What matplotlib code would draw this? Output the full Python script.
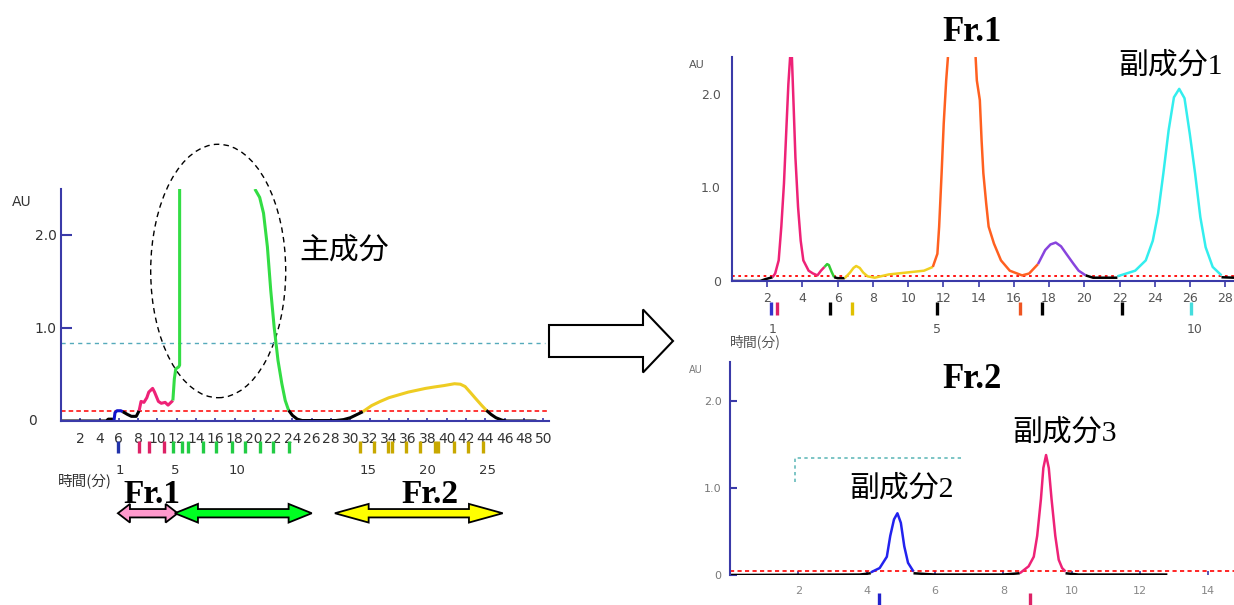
import numpy as np
import matplotlib
matplotlib.use('Agg')
import matplotlib.pyplot as plt
from matplotlib.patches import Ellipse, Polygon, FancyArrow

W, H = 1234, 605
CJK = ['Noto Sans CJK JP', 'DejaVu Sans']
MIX = ['Liberation Serif', 'Noto Sans CJK JP']
AXC = '#3a3aa8'

# ---- 左: 分取クロマトグラム ----
L_black_a = ([0, 4.7, 4.9, 5.3, 5.5], [0, 0, 0.02, 0.02, 0.01])
L_blue = ([5.5, 5.6, 5.8, 6.2, 6.4], [0.01, 0.09, 0.11, 0.11, 0.10])
L_black_b = ([6.4, 6.9, 7.3, 7.8, 8.1], [0.10, 0.07, 0.05, 0.05, 0.11])
L_pink = ([8.1, 8.3, 8.6, 8.9, 9.1, 9.3, 9.5, 9.7, 9.9, 10.1, 10.4, 10.8, 11.1, 11.4, 11.6],
          [0.11, 0.21, 0.20, 0.25, 0.31, 0.33, 0.35, 0.31, 0.26, 0.21, 0.19, 0.20, 0.17, 0.20, 0.22])
L_green_a = ([11.6, 11.75, 11.9, 12.2, 12.3, 12.3], [0.22, 0.45, 0.56, 0.58, 0.60, 2.49])
L_green_b = ([20.1, 20.6, 21.0, 21.4, 21.75, 22.1, 22.5, 22.9, 23.25, 23.6],
             [2.49, 2.40, 2.23, 1.87, 1.40, 1.01, 0.65, 0.40, 0.22, 0.115])
L_black_c = ([23.6, 24.0, 24.5, 25.0, 28.5, 29.3, 30.0, 30.7, 31.3],
             [0.115, 0.06, 0.02, 0.005, 0.005, 0.015, 0.035, 0.07, 0.10])
L_yellow = ([31.3, 32.2, 33.1, 34.0, 35.0, 36.0, 36.9, 37.8, 38.7, 39.7, 40.8, 41.4, 41.9, 42.5, 43.0, 43.6, 44.1],
            [0.10, 0.165, 0.21, 0.25, 0.28, 0.31, 0.33, 0.35, 0.365, 0.38, 0.40, 0.395, 0.37, 0.30, 0.24, 0.17, 0.115])
L_black_d = ([44.1, 44.6, 45.1, 45.7, 46.2, 49.3], [0.115, 0.07, 0.035, 0.01, 0.0, 0.0])
L_red_level = 0.11
L_cyan_level = 0.84
L_xticks = list(range(2, 51, 2))
L_frac_x = [5.88, 8.08, 9.15, 10.7,
            11.64, 12.5, 13.2, 14.75, 16.1, 17.7, 19.1, 20.6, 22.0, 23.6,
            31.0, 32.5, 33.9, 34.3, 35.8, 37.2, 38.8, 39.1, 40.7, 42.2, 43.8]
L_frac_c = ['#2233aa'] + ['#dd2266'] * 3 + ['#22cc44'] * 10 + ['#c8a800'] * 11
L_frac_num = ['1', '5', '10', '15', '20', '25']
L_frac_num_x = [6.1, 11.8, 18.3, 31.8, 38.0, 44.2]
# 分画の範囲 (分)
arr_pink = (5.9, 12.1)
arr_green = (11.8, 26.0)
arr_yellow = (28.4, 45.8)

# ---- 右上: Fr.1 ----
R1_black_a = ([0, 1.6, 1.9, 2.3], [0, 0, 0.02, 0.04])
R1_pink = ([2.3, 2.45, 2.65, 2.8, 2.95, 3.1, 3.2, 3.3, 3.4, 3.5, 3.6, 3.75, 3.9, 4.05, 4.35, 4.6, 4.85, 5.05, 5.25],
           [0.04, 0.08, 0.22, 0.58, 1.04, 1.68, 2.10, 2.39, 2.39, 1.86, 1.32, 0.79, 0.43, 0.22, 0.11, 0.08, 0.06, 0.11, 0.15])
R1_green = ([5.25, 5.4, 5.5, 5.65, 5.8], [0.15, 0.18, 0.17, 0.10, 0.04])
R1_black_b = ([5.8, 6.0, 6.4], [0.04, 0.03, 0.03])
R1_yellow = ([6.4, 6.7, 6.9, 7.05, 7.25, 7.45, 7.7, 8.1, 8.9, 9.9, 10.9, 11.4],
             [0.03, 0.09, 0.14, 0.16, 0.14, 0.09, 0.05, 0.035, 0.07, 0.09, 0.11, 0.15])
R1_orange_up = ([11.4, 11.66, 11.76, 11.9, 12.02, 12.16, 12.26], [0.15, 0.29, 0.58, 1.15, 1.68, 2.14, 2.39])
R1_orange_down = ([13.83, 13.9, 14.07, 14.17, 14.27, 14.43, 14.57, 14.87, 15.27, 15.77, 16.47, 16.87, 17.37],
                  [2.39, 2.14, 1.93, 1.50, 1.15, 0.83, 0.58, 0.40, 0.22, 0.11, 0.06, 0.08, 0.18])
R1_purple = ([17.37, 17.78, 18.08, 18.38, 18.68, 18.98, 19.38, 19.68, 20.08],
             [0.18, 0.33, 0.39, 0.41, 0.37, 0.29, 0.185, 0.11, 0.06])
R1_black_c = ([20.08, 20.5, 21.88], [0.06, 0.035, 0.035])
R1_cyan = ([21.88, 22.89, 23.49, 23.89, 24.19, 24.49, 24.79, 25.09, 25.39, 25.69, 25.99, 26.29, 26.59, 26.89, 27.29, 27.79],
           [0.05, 0.11, 0.22, 0.43, 0.72, 1.15, 1.61, 1.96, 2.05, 1.95, 1.57, 1.15, 0.68, 0.36, 0.15, 0.06])
R1_black_d = ([27.79, 28.5], [0.04, 0.035])
R1_red_level = 0.053
R1_xticks = list(range(2, 29, 2))
R1_frac_x = [2.24, 2.55, 5.55, 6.79, 11.62, 16.37, 17.58, 22.12, 26.05]
R1_frac_c = ['#3333cc', '#dd2266', 'k', '#e0c000', 'k', '#ee5522', 'k', 'k', '#44dddd']
R1_frac_num = ['1', '5', '10']
R1_frac_num_x = [2.28, 11.62, 26.25]

# ---- 右下: Fr.2 ----
R2_black_a = ([0, 3.8, 4.12], [0.0, 0.005, 0.02])
R2_blue = ([4.12, 4.38, 4.59, 4.69, 4.8, 4.9, 5.0, 5.1, 5.21, 5.37],
           [0.03, 0.08, 0.21, 0.45, 0.64, 0.71, 0.60, 0.33, 0.14, 0.04])
R2_black_b = ([5.37, 6.0, 8.0, 8.48], [0.02, 0.005, 0.005, 0.02])
R2_pink = ([8.48, 8.74, 8.89, 8.99, 9.1, 9.17, 9.25, 9.33, 9.41, 9.52, 9.62, 9.72, 9.82],
           [0.02, 0.10, 0.21, 0.45, 0.875, 1.23, 1.38, 1.23, 0.875, 0.45, 0.175, 0.08, 0.04])
R2_black_c = ([9.82, 10.2, 12.8], [0.02, 0.005, 0.005])
R2_red_level = 0.047
R2_threshold = ([1.9, 1.9, 6.77], [1.07, 1.35, 1.35])
R2_xticks = list(range(2, 15, 2))
R2_frac_x = [4.36, 8.77]
R2_frac_c = ['#2222cc', '#dd2266']


def frame(x0, x1, ytop, ybot):
    return [x0 / W, 1 - ybot / H, (x1 - x0) / W, (ybot - ytop) / H]


def ftext(x, y, s, **kw):
    fig.text(x / W, 1 - y / H, s, **kw)


def draw(ax, seg, color, lw=2.0):
    ax.plot(seg[0], seg[1], color=color, lw=lw, solid_capstyle='butt')


def double_arrow(ax, x0, x1, yc, head, color):
    bh, hh = 0.045, 0.10
    pts = [(x0, yc), (x0 + head, yc + hh), (x0 + head, yc + bh), (x1 - head, yc + bh),
           (x1 - head, yc + hh), (x1, yc), (x1 - head, yc - hh), (x1 - head, yc - bh),
           (x0 + head, yc - bh), (x0 + head, yc - hh)]
    ax.add_patch(Polygon(pts, closed=True, fc=color, ec='k', lw=1.3, clip_on=False, zorder=5))


def style(ax, xmax, ymax):
    ax.set_xlim(0, xmax)
    ax.set_ylim(0, ymax)
    for s in ['top', 'right']:
        ax.spines[s].set_visible(False)
    ax.spines['left'].set_color(AXC)
    ax.spines['bottom'].set_color(AXC)
    ax.spines['left'].set_linewidth(1.5)
    ax.spines['bottom'].set_linewidth(1.5)
    ax.patch.set_alpha(0)


fig = plt.figure(figsize=(W / 100, H / 100), dpi=100)

# ======== 左 ========
ax1 = fig.add_axes(frame(61, 549, 189, 421))
style(ax1, 50.6, 2.49)
ax1.axhline(L_cyan_level, xmax=50.2 / 50.6, color='#55aabb', ls=(0, (3, 3)), lw=1)
ax1.axhline(L_red_level, color='red', ls=(0, (3, 2)), lw=1.1)
for seg, c in [(L_black_a, 'k'), (L_blue, '#1111cc'), (L_black_b, 'k'), (L_pink, '#ee2277'),
               (L_green_a, '#33dd44'), (L_green_b, '#33dd44'), (L_black_c, 'k'),
               (L_yellow, '#eecc22'), (L_black_d, 'k')]:
    draw(ax1, seg, c, 2.2)
ax1.add_patch(Ellipse((16.3, 1.61), 14, 2.72, fill=False, ec='k', ls=(0, (4, 3)), lw=1, clip_on=False))
ax1.set_yticks([1, 2])
ax1.set_yticklabels(['1.0', '2.0'])
ax1.tick_params(axis='y', direction='in', length=8, width=1.5, color=AXC, pad=3,
                labelsize=10, labelcolor='#333333')
ax1.set_xticks(L_xticks)
ax1.set_xticklabels([str(v) for v in L_xticks])
ax1.tick_params(axis='x', direction='in', length=2.5, width=1.2, color=AXC, pad=8,
                labelsize=10, labelcolor='#333333')
ax1.text(-0.05, 0, '0', transform=ax1.get_yaxis_transform(), ha='right', va='center',
         fontsize=10, color='#333333')
ax1.vlines(L_frac_x, -0.344, -0.215, colors=L_frac_c, lw=2.4, clip_on=False)
for s, x in zip(L_frac_num, L_frac_num_x):
    ax1.text(x, -0.53, s, ha='center', va='center', fontsize=9.5, color='#333333', clip_on=False)
double_arrow(ax1, arr_pink[0], arr_pink[1], -0.99, 1.25, '#ff99cc')
double_arrow(ax1, arr_green[0], arr_green[1], -0.99, 2.4, '#00ff22')
double_arrow(ax1, arr_yellow[0], arr_yellow[1], -0.99, 3.5, '#ffff00')
ftext(22, 202, 'AU', fontsize=10, color='#333333', ha='center', va='center')
ftext(58, 482, '時間(分)', family=CJK, fontsize=10.5, color='#333333', va='center')
ftext(152, 503, 'Fr.1', family='Liberation Serif', weight='bold', fontsize=24, ha='center',
      va='baseline', zorder=6)
ftext(430, 503, 'Fr.2', family='Liberation Serif', weight='bold', fontsize=24, ha='center',
      va='baseline')
ftext(344, 259, '主成分', family=CJK, fontsize=21.5, ha='center', va='baseline')

# ======== 中央の矢印 ========
fig.add_artist(FancyArrow(549 / W, 1 - 341 / H, 124 / W, 0, width=32 / H, head_width=63 / H,
                          head_length=30 / W, length_includes_head=True,
                          fc='white', ec='k', lw=1.5, transform=fig.transFigure))

# ======== 右上 ========
ax2 = fig.add_axes(frame(732, 1234, 57, 281))
style(ax2, 28.5, 2.39)
ax2.axhline(R1_red_level, color='red', ls=(0, (1.5, 2)), lw=1.3)
for seg, c in [(R1_black_a, 'k'), (R1_pink, '#ee2277'), (R1_green, '#33cc33'), (R1_black_b, 'k'),
               (R1_yellow, '#f0d020'), (R1_orange_up, '#ff6020'), (R1_orange_down, '#ff6020'),
               (R1_purple, '#8844dd'), (R1_black_c, 'k'), (R1_cyan, '#33eeee'), (R1_black_d, 'k')]:
    draw(ax2, seg, c, 1.8)
ax2.set_yticks([0, 1, 2])
ax2.set_yticklabels(['0', '1.0', '2.0'])
ax2.tick_params(axis='y', length=0, pad=8, labelsize=9, labelcolor='#555555')
ax2.set_xticks(R1_xticks)
ax2.set_xticklabels([str(v) for v in R1_xticks])
ax2.tick_params(axis='x', direction='out', length=4, width=1.2, color=AXC, pad=4,
                labelsize=9, labelcolor='#555555')
ax2.vlines(R1_frac_x, -0.363, -0.224, colors=R1_frac_c, lw=2.4, clip_on=False)
for s, x in zip(R1_frac_num, R1_frac_num_x):
    ax2.text(x, -0.52, s, ha='center', va='center', fontsize=9, color='#555555', clip_on=False)
ftext(697, 65, 'AU', fontsize=8, color='#555555', ha='center', va='center')
ftext(730, 342, '時間(分)', family=CJK, fontsize=10, color='#555555', va='center')
ftext(972, 41, 'Fr.1', family='Liberation Serif', weight='bold', fontsize=25, ha='center',
      va='baseline')
ftext(1171, 74, '副成分1', family=MIX, fontsize=21.5, ha='center', va='baseline')

# ======== 右下 ========
ax3 = fig.add_axes(frame(730, 1234, 362, 575))
style(ax3, 14.75, 2.45)
ax3.spines['bottom'].set_visible(False)
ax3.axhline(R2_red_level, color='red', ls=(0, (2.5, 2)), lw=1.2)
ax3.plot(R2_threshold[0], R2_threshold[1], color='#66bbbb', ls=(0, (2, 2)), lw=1.2)
for seg, c in [(R2_black_a, 'k'), (R2_blue, '#2222ee'), (R2_black_b, 'k'),
               (R2_pink, '#ee2277'), (R2_black_c, 'k')]:
    draw(ax3, seg, c, 1.8)
ax3.set_yticks([0, 1, 2])
ax3.set_yticklabels(['0', '1.0', '2.0'])
ax3.tick_params(axis='y', direction='in', length=5, width=1.5, color=AXC, pad=6,
                labelsize=8, labelcolor='#777777')
ax3.set_xticks(R2_xticks)
ax3.set_xticklabels([str(v) for v in R2_xticks])
ax3.tick_params(axis='x', direction='in', length=3, width=1.2, color=AXC, pad=8,
                labelsize=8, labelcolor='#888888')
ax3.vlines(R2_frac_x, -0.40, -0.207, colors=R2_frac_c, lw=2.4, clip_on=False)
ftext(696, 370, 'AU', fontsize=7, color='#777777', ha='center', va='center')
ftext(972, 388, 'Fr.2', family='Liberation Serif', weight='bold', fontsize=25, ha='center',
      va='baseline')
ftext(1065, 441, '副成分3', family=MIX, fontsize=21.5, ha='center', va='baseline')
ftext(901, 497, '副成分2', family=MIX, fontsize=21.5, ha='center', va='baseline')

fig.savefig('out.png', dpi=100)
